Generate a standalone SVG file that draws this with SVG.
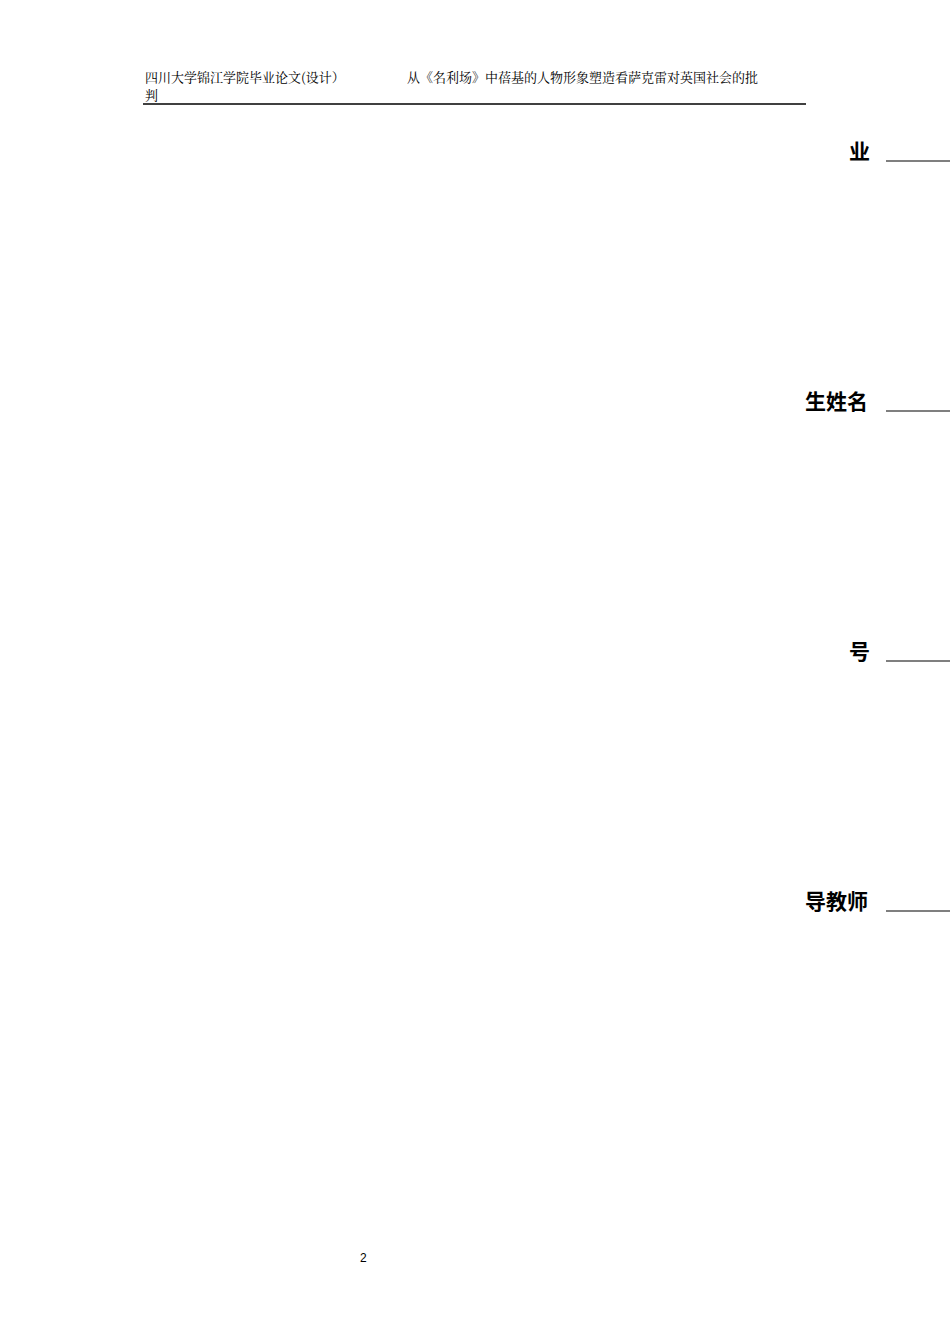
<svg xmlns="http://www.w3.org/2000/svg" width="950" height="1344" viewBox="0 0 950 1344">
<style>
.h{font-family:"Noto Serif CJK SC","Noto Sans CJK SC",serif;font-size:13px;fill:#000}
.l{font-family:"Noto Sans CJK SC",sans-serif;font-size:21px;font-weight:bold;fill:#000}
.u{stroke:#000;stroke-width:1.2}
</style>
<rect width="950" height="1344" fill="#fff"/>
<g id="header">
<text class="h" x="145" y="82">四川大学锦江学院毕业论文(设计）</text>
<text class="h" x="407" y="82">从《名利场》中蓓基的人物形象塑造看萨克雷对英国社会的批</text>
<text class="h" x="145" y="100">判</text>
<line x1="143" y1="104" x2="806" y2="104" stroke="#000" stroke-width="1.5"/>
</g>
<g id="f1"><text class="l" x="849" y="159">业</text><line class="u" x1="886" y1="161" x2="950" y2="161"/></g>
<g id="f2"><text class="l" x="805" y="409">生姓名</text><line class="u" x1="886" y1="411" x2="950" y2="411"/></g>
<g id="f3"><text class="l" x="849" y="659">号</text><line class="u" x1="886" y1="661" x2="950" y2="661"/></g>
<g id="f4"><text class="l" x="805" y="909">导教师</text><line class="u" x1="886" y1="911" x2="950" y2="911"/></g>
<text x="360" y="1262" font-family="Liberation Sans,sans-serif" font-size="12">2</text>
</svg>
